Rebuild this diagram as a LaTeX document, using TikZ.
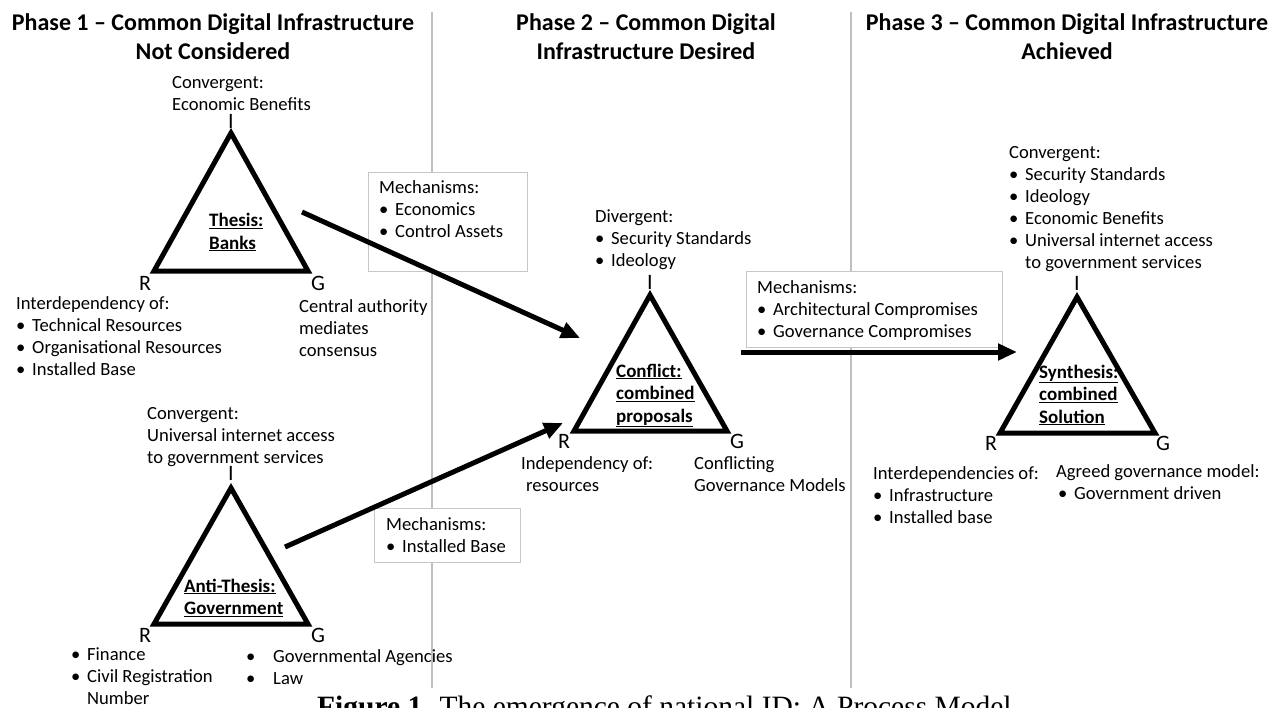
\documentclass[tikz,border=0pt]{standalone}
\usepackage{fontspec}
\setmainfont{Carlito}
\newfontfamily\capfont{Liberation Serif}
\usetikzlibrary{arrows.meta}
\newcommand{\bu}{\makebox[16pt][l]{•}}
\newcommand{\bw}{\makebox[27pt][l]{•}}
\newcommand{\ul}[1]{\underline{#1}}
\begin{document}
\begin{tikzpicture}[x=1pt,y=-1pt,
  txt/.style={inner sep=0pt, anchor=base west, align=left, font=\fontsize{18.6}{22}\selectfont},
  ttl/.style={inner sep=0pt, anchor=base, align=center, font=\fontsize{24}{29}\selectfont\bfseries},
  core/.style={inner sep=0pt, anchor=base west, align=left, font=\fontsize{19}{22.5}\selectfont\bfseries},
  vtx/.style={inner sep=0pt, anchor=base, font=\fontsize{22}{26}\selectfont},
  tri/.style={line width=5pt, line join=miter},
  sep/.style={draw=black!25, line width=1.4pt},
  mbox/.style={draw=black!22, line width=0.9pt},
  flow/.style={line width=5pt, -{Triangle[length=19pt,width=16pt]}}]
\useasboundingbox (0,0) rectangle (1279,707);
\fill[white] (0,0) rectangle (1279,707);
% separators
\coordinate (s1t) at (432,12); \coordinate (s1b) at (432,688);
\coordinate (s2t) at (851,12); \coordinate (s2b) at (851,688);
\draw[sep] (s1t) -- (s1b);
\draw[sep] (s2t) -- (s2b);
% titles (anchor = baseline of last line)
\node[ttl] (t1) at (213,59) {Phase 1 – Common Digital Infrastructure\\Not Considered};
\node[ttl] (t2) at (646,59) {Phase 2 – Common Digital\\Infrastructure Desired};
\node[ttl] (t3) at (1067,59) {Phase 3 – Common Digital Infrastructure\\Achieved};
% mechanism boxes
\draw[mbox,fill=white] (368,172) rectangle (527,271);
\node[txt] (m1) at (379,237) {Mechanisms:\\\bu Economics\\\bu Control Assets};
\draw[mbox,fill=white] (746,271) rectangle (1002,347);
\node[txt] (m2) at (757,337) {Mechanisms:\\\bu Architectural Compromises\\\bu Governance Compromises};
\draw[mbox,fill=white] (374,508) rectangle (520,562);
\node[txt] (m3) at (386,552) {Mechanisms:\\\bu Installed Base};
% triangle 1 : Thesis
\coordinate (aI) at (231,133); \coordinate (aR) at (154,271); \coordinate (aG) at (308,271);
\draw[tri] (aI) -- (aR) -- (aG) -- cycle;
\node[vtx] (aIl) at (231,128) {I};
\node[vtx] (aRl) at (145,290) {R};
\node[vtx] (aGl) at (318,290) {G};
\node[core] (ac) at (209,249) {\ul{Thesis:}\\\ul{Banks}};
\node[txt] (aIt) at (172,110) {Convergent:\\Economic Benefits};
\node[txt] (aRt) at (16,375) {Interdependency of:\\\bu Technical Resources\\\bu Organisational Resources\\\bu Installed Base};
\node[txt] (aGt) at (299,356) {Central authority\\mediates\\consensus};
% triangle 2 : Anti-Thesis
\coordinate (bI) at (231,488); \coordinate (bR) at (154,624); \coordinate (bG) at (308,624);
\draw[tri] (bI) -- (bR) -- (bG) -- cycle;
\node[vtx] (bIl) at (231,480) {I};
\node[vtx] (bRl) at (145,642) {R};
\node[vtx] (bGl) at (318,642) {G};
\node[core] (bc) at (184,614.5) {\ul{Anti-Thesis:}\\\ul{Government}};
\node[txt] (bIt) at (147,463) {Convergent:\\Universal internet access\\to government services};
\node[txt] (bRt) at (71,704) {\bu Finance\\\bu Civil Registration\\\hspace*{16pt}Number};
\node[txt] (bGt) at (246,684) {\bw Governmental Agencies\\\bw Law};
% triangle 3 : Conflict
\coordinate (cI) at (650,295); \coordinate (cR) at (574,431); \coordinate (cG) at (727,431);
\draw[tri] (cI) -- (cR) -- (cG) -- cycle;
\node[vtx] (cIl) at (650,289) {I};
\node[vtx] (cRl) at (564,448) {R};
\node[vtx] (cGl) at (737,448) {G};
\node[core] (cc) at (616,422) {\ul{Conflict:}\\\ul{combined}\\\ul{proposals}};
\node[txt] (cIt) at (595,266) {Divergent:\\\bu Security Standards\\\bu Ideology};
\node[txt] (cRt) at (521,491) {Independency of:\\\hspace*{5pt}resources};
\node[txt] (cGt) at (694,491) {Conflicting\\Governance Models};
% triangle 4 : Synthesis
\coordinate (dI) at (1077,297); \coordinate (dR) at (1000,433); \coordinate (dG) at (1155,433);
\draw[tri] (dI) -- (dR) -- (dG) -- cycle;
\node[vtx] (dIl) at (1077,290) {I};
\node[vtx] (dRl) at (991,450) {R};
\node[vtx] (dGl) at (1163,450) {G};
\node[core] (dc) at (1039,423) {\ul{Synthesis:}\\\ul{combined}\\\ul{Solution}};
\node[txt] (dIt) at (1009,268) {Convergent:\\\bu Security Standards\\\bu Ideology\\\bu Economic Benefits\\\bu Universal internet access\\\hspace*{16pt}to government services};
\node[txt] (dRt) at (873,523) {Interdependencies of:\\\bu Infrastructure\\\bu Installed base};
\node[txt] (dGt) at (1056,499) {Agreed governance model:\\\hspace*{2pt}\bu Government driven};
% arrows
\coordinate (p1s) at (302,212); \coordinate (p1e) at (580,338);
\coordinate (p2s) at (285,547); \coordinate (p2e) at (563,423);
\coordinate (p3s) at (741,352); \coordinate (p3e) at (1017,352);
\draw[flow] (p1s) -- (p1e);
\draw[flow] (p2s) -- (p2e);
\draw[flow] (p3s) -- (p3e);
% caption (cut by the page edge, as in the reference)
\node[inner sep=0pt, anchor=base west, font=\fontsize{29.5}{33}\capfont] (cap) at (317,716) {\textbf{Figure 1.} The emergence of national ID: A Process Model};
\end{tikzpicture}
\end{document}
